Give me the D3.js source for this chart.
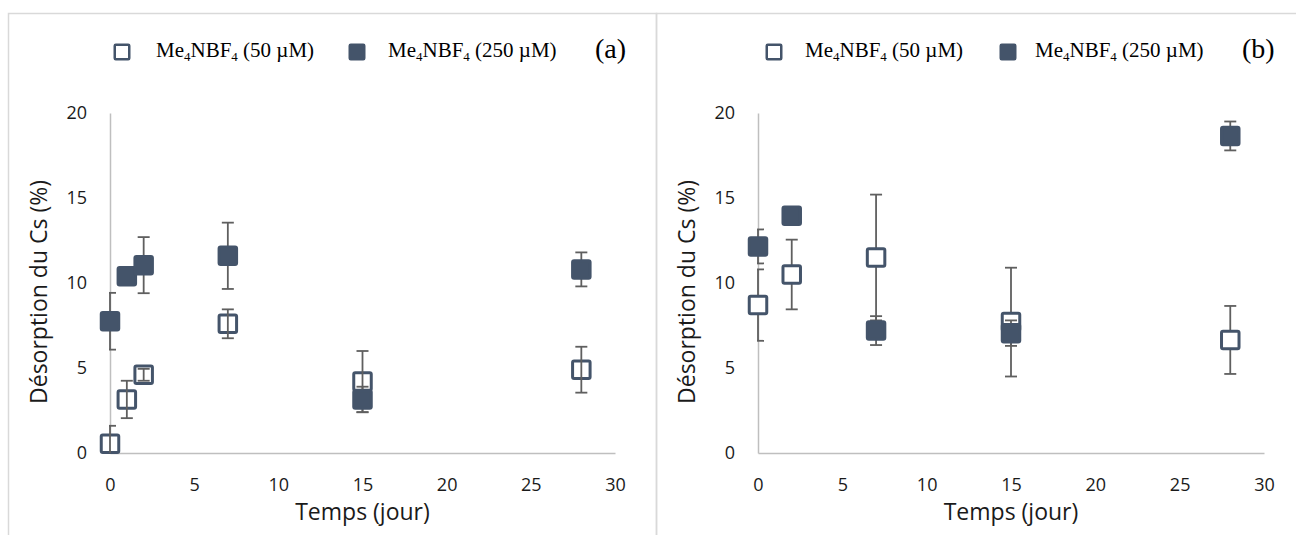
<!DOCTYPE html>
<html>
<head>
<meta charset="utf-8">
<script src="https://cdn.jsdelivr.net/npm/d3@7"></script>
<style>
  html, body { margin: 0; padding: 0; background: #fff; }
  svg { display: block; }
</style>
</head>
<body>
<svg id="chart" width="1296" height="535"></svg>
<script>
// Cs desorption (%) over time for two Me4NBF4 concentrations, two experiments (a) and (b)

// Panel (a)
const daysA = [0, 1, 2, 7, 15, 28];
const a50 = [0.55, 3.15, 4.6, 7.6, 4.2, 4.9];
const a50Err = [1.05, 1.1, 0.35, 0.85, 1.8, 1.35];
const a250 = [7.75, 10.4, 11.05, 11.6, 3.15, 10.8];
const a250Err = [1.67, 0.3, 1.65, 1.95, 0.75, 1.0];

// Panel (b)
const daysB = [0, 2, 7, 15, 28];
const b50 = [8.7, 10.5, 11.5, 7.7, 6.65];
const b50Err = [2.1, 2.05, 3.7, 3.2, 2.0];
const b250 = [12.15, 13.95, 7.2, 7.05, 18.65];
const b250Err = [1.0, 0.3, 0.85, 0.75, 0.85];

const xTicks = [0, 5, 10, 15, 20, 25, 30];
const yTicks = [0, 5, 10, 15, 20];
const seriesNames = ["(50 µM)", "(250 µM)"];
const panelTags = ["(a)", "(b)"];
const xTitle = "Temps (jour)";
const yTitle = "Désorption du Cs (%)";

const MARK = "#44546A";
const ERR = "#5f5f5f";
const AXIS = "#bfbfbf";
const FRAME = "#d9d9d9";
const SANS = "'Open Sans', 'Noto Sans', sans-serif";
const SERIF = "'Liberation Serif', 'Times New Roman', serif";

const svg = d3.select("#chart");

// outer frames of the two chart boxes
svg.append("rect").attr("x", 8.5).attr("y", 13.5).attr("width", 648).attr("height", 540)
  .attr("fill", "none").attr("stroke", FRAME).attr("stroke-width", 1.5);
svg.append("rect").attr("x", 656.5).attr("y", 13.5).attr("width", 660).attr("height", 540)
  .attr("fill", "none").attr("stroke", FRAME).attr("stroke-width", 1.5);

const panels = [
  { tag: panelTags[0], x0: 110, x1: 615, days: daysA,
    s: [{ v: a50, e: a50Err, open: true }, { v: a250, e: a250Err, open: false }],
    errOverOpen: true,
    legend: { m1: 122, t1: 156, m2: 357, t2: 388, tag: 595 } },
  { tag: panelTags[1], x0: 758, x1: 1264, days: daysB,
    s: [{ v: b50, e: b50Err, open: true }, { v: b250, e: b250Err, open: false }],
    errOverOpen: false,
    legend: { m1: 774, t1: 805, m2: 1008, t2: 1035, tag: 1242 } }
];

panels.forEach((p, pi) => {
  const x = d3.scaleLinear().domain([0, 30]).range([p.x0, p.x1]);
  const y = d3.scaleLinear().domain([0, 20]).range([453, 113]);
  const g = svg.append("g");

  // axes (no tick marks, light grey lines)
  const xa = g.append("g").attr("transform", `translate(0,${y(0)})`)
    .call(d3.axisBottom(x).tickValues(xTicks).tickSize(0).tickPadding(25).tickFormat(d3.format("d")));
  const ya = g.append("g").attr("transform", `translate(${x(0)},0)`)
    .call(d3.axisLeft(y).tickValues(yTicks).tickSize(0).tickPadding(23).tickFormat(d3.format("d")));
  [xa, ya].forEach(a => {
    a.select(".domain").attr("stroke", AXIS).attr("stroke-width", 1.5);
    a.selectAll("text").attr("font-family", SANS).attr("font-size", 18).attr("fill", "#1a1a1a");
  });

  // axis titles
  g.append("text").attr("x", (p.x0 + p.x1) / 2).attr("y", 520)
    .attr("text-anchor", "middle").attr("font-family", SANS).attr("font-size", 23)
    .attr("fill", "#1a1a1a").text(xTitle);
  g.append("text").attr("transform", `translate(${p.x0 - 63},292) rotate(-90)`)
    .attr("text-anchor", "middle").attr("font-family", SANS).attr("font-size", 23)
    .attr("fill", "#1a1a1a").text(yTitle);

  // clip for error bars: plotting area only
  const clipId = "clip" + pi;
  svg.append("clipPath").attr("id", clipId).append("rect")
    .attr("x", x(0) - 1).attr("y", y(20)).attr("width", x(30) - x(0) + 1).attr("height", y(0) - y(20));

  const drawErr = (ser) => {
    const eg = g.append("g").attr("clip-path", `url(#${clipId})`)
      .attr("stroke", ERR).attr("stroke-width", 1.8).attr("fill", "none");
    p.days.forEach((d, i) => {
      const cx = x(d), hi = y(ser.v[i] + ser.e[i]), lo = y(ser.v[i] - ser.e[i]);
      eg.append("line").attr("x1", cx).attr("x2", cx).attr("y1", hi).attr("y2", lo);
      eg.append("line").attr("x1", cx - 6).attr("x2", cx + 6).attr("y1", hi).attr("y2", hi);
      eg.append("line").attr("x1", cx - 6).attr("x2", cx + 6).attr("y1", lo).attr("y2", lo);
    });
  };
  const drawMarks = (ser) => {
    g.append("g").selectAll("rect").data(p.days).join("rect")
      .attr("x", d => x(d) - 8.75).attr("y", (d, i) => y(ser.v[i]) - 8.75)
      .attr("width", 17.5).attr("height", 17.5).attr("rx", 1.5)
      .attr("fill", ser.open ? "#fff" : MARK)
      .attr("stroke", MARK).attr("stroke-width", 3);
  };

  if (p.errOverOpen) { drawMarks(p.s[0]); drawErr(p.s[0]); }
  else { drawErr(p.s[0]); drawMarks(p.s[0]); }
  drawErr(p.s[1]);
  drawMarks(p.s[1]);

  // legend
  const L = p.legend;
  const legendItem = (mx, tx, open, name) => {
    g.append("rect").attr("x", mx - 7.25).attr("y", 52 - 7.25).attr("width", 14.5).attr("height", 14.5)
      .attr("rx", 1).attr("fill", open ? "#fff" : MARK).attr("stroke", MARK).attr("stroke-width", 2.5);
    const t = g.append("text").attr("x", tx).attr("y", 57)
      .attr("font-family", SERIF).attr("font-size", 21).attr("fill", "#000");
    t.append("tspan").text("Me");
    t.append("tspan").attr("font-size", 13).attr("dy", 4).text("4");
    t.append("tspan").attr("dy", -4).text("NBF");
    t.append("tspan").attr("font-size", 13).attr("dy", 4).text("4");
    t.append("tspan").attr("dy", -4).text(" " + name);
  };
  legendItem(L.m1, L.t1, true, seriesNames[0]);
  legendItem(L.m2, L.t2, false, seriesNames[1]);
  g.append("text").attr("x", L.tag).attr("y", 58)
    .attr("font-family", SERIF).attr("font-size", 28).attr("fill", "#000").text(p.tag);
});
</script>
</body>
</html>
